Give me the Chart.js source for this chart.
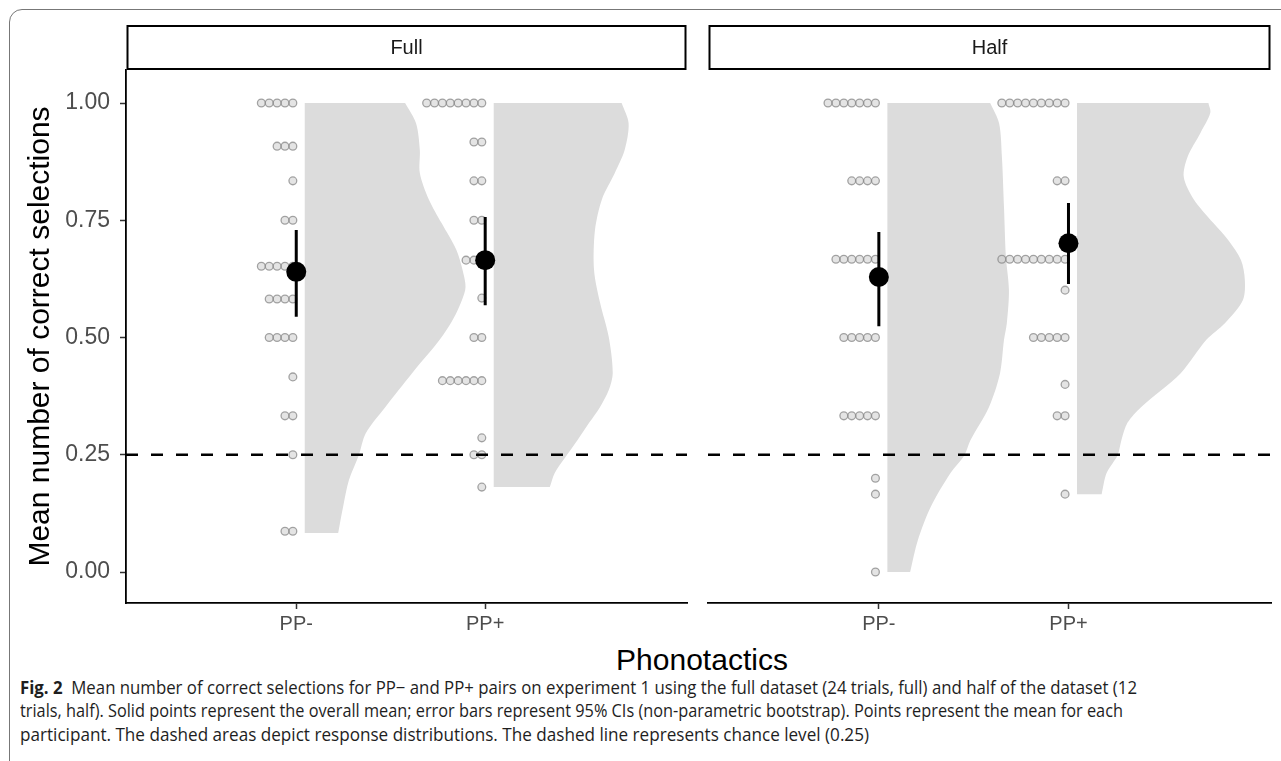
<!DOCTYPE html>
<html>
<head>
<meta charset="utf-8">
<script src="https://cdn.jsdelivr.net/npm/chart.js@4.4.1/dist/chart.umd.min.js"></script>
<style>
  html, body { margin: 0; padding: 0; background: #fff; }
  body { width: 1281px; height: 761px; overflow: hidden; position: relative; font-family: "Liberation Sans", Arial, sans-serif; }
  #frame { position: absolute; left: 9px; top: 9px; width: 1400px; height: 900px; border: 1.5px solid #777; border-top-left-radius: 13px; box-sizing: border-box; }
  canvas { position: absolute; top: 0; }
  #c1 { left: 0; }
  #c2 { left: 697px; }
  #xtitle { position: absolute; left: 402px; width: 600px; top: 643px; text-align: center; font-size: 30px; line-height: 34px; color: #000; }
  .cap { position: absolute; left: 20px; white-space: nowrap; font-family: "Open Sans", "Noto Sans", sans-serif; font-size: 17.5px; line-height: 22px; color: #1e1e1e; transform-origin: 0 50%; }
  .cap b { font-weight: 700; }
</style>
</head>
<body>
<div id="frame"></div>
<canvas id="c1" width="697" height="640"></canvas>
<canvas id="c2" width="584" height="640"></canvas>
<div id="xtitle">Phonotactics</div>
<div class="cap" id="l1" data-w="1117" style="top:676px"><b>Fig. 2</b>&nbsp; Mean number of correct selections for PP− and PP+ pairs on experiment 1 using the full dataset (24 trials, full) and half of the dataset (12</div>
<div class="cap" id="l2" data-w="1103" style="top:699px">trials, half). Solid points represent the overall mean; error bars represent 95% CIs (non-parametric bootstrap). Points represent the mean for each</div>
<div class="cap" id="l3" data-w="849" style="top:723px">participant. The dashed areas depict response distributions. The dashed line represents chance level (0.25)</div>
<script>
// ---------- data ----------
const categories = ['PP-', 'PP+'];
const panels = ['Full', 'Half'];
const yTickValues = [0, 0.25, 0.5, 0.75, 1];
const yTickLabels = ['0.00', '0.25', '0.50', '0.75', '1.00'];
const chanceLevel = 0.25;

// overall means and 95% CIs
const fullMean = [0.640, 0.665];
const fullLow  = [0.544, 0.569];
const fullHigh = [0.729, 0.757];
const halfMean = [0.629, 0.701];
const halfLow  = [0.524, 0.614];
const halfHigh = [0.725, 0.787];

// participant means (dot stacks): value level and number of participants
const fullMinusDotValues = [1.0, 0.908, 0.834, 0.75, 0.652, 0.582, 0.5, 0.416, 0.333, 0.25, 0.087];
const fullMinusDotCounts = [5, 3, 1, 2, 5, 4, 4, 1, 2, 1, 2];
const fullPlusDotValues  = [1.0, 0.917, 0.834, 0.75, 0.665, 0.584, 0.5, 0.408, 0.286, 0.25, 0.181];
const fullPlusDotCounts  = [8, 2, 2, 2, 3, 1, 2, 6, 1, 2, 1];
const halfMinusDotValues = [1.0, 0.834, 0.667, 0.5, 0.333, 0.2, 0.166, 0.0];
const halfMinusDotCounts = [7, 4, 6, 5, 5, 1, 1, 1];
const halfPlusDotValues  = [1.0, 0.834, 0.667, 0.601, 0.5, 0.4, 0.333, 0.166];
const halfPlusDotCounts  = [9, 2, 9, 1, 5, 1, 2, 1];

// half-violin outlines: value levels (top to bottom) and density widths (x units)
const fullMinusViolinY = [1.000, 0.957, 0.900, 0.851, 0.795, 0.744, 0.687, 0.629, 0.601, 0.544, 0.495, 0.424, 0.352, 0.296, 0.249, 0.196, 0.139, 0.083];
const fullMinusViolinW = [0.531, 0.589, 0.609, 0.609, 0.656, 0.724, 0.802, 0.844, 0.849, 0.792, 0.714, 0.568, 0.427, 0.323, 0.286, 0.234, 0.203, 0.177];
const fullPlusViolinY  = [1.000, 0.957, 0.900, 0.851, 0.795, 0.729, 0.644, 0.574, 0.501, 0.424, 0.388, 0.352, 0.318, 0.281, 0.245, 0.211, 0.181];
const fullPlusViolinW  = [0.677, 0.714, 0.693, 0.641, 0.573, 0.536, 0.531, 0.563, 0.609, 0.630, 0.609, 0.563, 0.505, 0.443, 0.380, 0.323, 0.297];
const halfMinusViolinY = [1.000, 0.957, 0.885, 0.778, 0.672, 0.601, 0.531, 0.495, 0.424, 0.352, 0.281, 0.249, 0.211, 0.139, 0.068, 0.000];
const halfMinusViolinW = [0.542, 0.589, 0.604, 0.615, 0.625, 0.641, 0.630, 0.615, 0.594, 0.536, 0.438, 0.406, 0.333, 0.229, 0.161, 0.120];
const halfPlusViolinY  = [1.000, 0.979, 0.936, 0.885, 0.842, 0.795, 0.744, 0.708, 0.665, 0.623, 0.580, 0.531, 0.495, 0.424, 0.352, 0.318, 0.281, 0.249, 0.211, 0.166];
const halfPlusViolinW  = [0.693, 0.703, 0.651, 0.583, 0.563, 0.615, 0.719, 0.797, 0.865, 0.885, 0.875, 0.781, 0.682, 0.547, 0.339, 0.266, 0.234, 0.214, 0.156, 0.130];

// ---------- layout constants ----------
const X_MIN = 0.099, X_MAX = 3.068;
const Y_MIN = -0.0661, Y_MAX = 1.0704;
const VIOLIN_GAP = 0.045;
const DOT_GAP = -0.018;
const DOT_STEP = 0.0417;
const FONT = "'Liberation Sans', Arial, sans-serif";

Chart.defaults.font.family = FONT;

function violinData(cat, ys, ws) {
  const base = cat + VIOLIN_GAP;
  const last = ys.length - 1;
  // corner points are doubled so the smoothed outline keeps sharp corners
  const pts = [{x: base, y: ys[last]}, {x: base, y: ys[last]}, {x: base, y: ys[0]}, {x: base, y: ys[0]}];
  ys.forEach((y, i) => {
    const p = {x: base + ws[i], y: y};
    pts.push(p);
    if (i === 0 || i === last) pts.push({x: p.x, y: p.y});
  });
  return pts;
}
function dotData(cat, vals, counts) {
  const pts = [];
  vals.forEach((v, i) => {
    for (let k = 0; k < counts[i]; k++) pts.push({x: cat + DOT_GAP - k * DOT_STEP, y: v});
  });
  return pts;
}
function errData(lows, highs) {
  const pts = [];
  lows.forEach((lo, i) => {
    pts.push({x: i + 1, y: lo}, {x: i + 1, y: highs[i]}, {x: i + 1, y: null});
  });
  return pts;
}
function meanData(means) { return means.map((m, i) => ({x: i + 1, y: m})); }

function datasets(v1, v2, d1, d2, lows, highs, means) {
  const violinStyle = {showLine: true, fill: 'shape', backgroundColor: '#dcdcdc', borderWidth: 0, borderColor: 'rgba(0,0,0,0)', pointRadius: 0, tension: 0.3, order: 5};
  const dotStyle = {showLine: false, pointRadius: 3.9, pointBorderWidth: 1.3, pointBackgroundColor: 'rgba(205,205,205,0.55)', pointBorderColor: 'rgba(135,135,135,0.75)', order: 4};
  return [
    Object.assign({data: v1}, violinStyle),
    Object.assign({data: v2}, violinStyle),
    Object.assign({data: d1}, dotStyle),
    Object.assign({data: d2}, dotStyle),
    {data: [{x: X_MIN, y: chanceLevel}, {x: X_MAX, y: chanceLevel}], showLine: true, borderColor: '#000', borderWidth: 2.6, borderDash: [12, 13], pointRadius: 0, order: 3},
    {data: errData(lows, highs), showLine: true, spanGaps: false, borderColor: '#000', borderWidth: 3, pointRadius: 0, order: 2},
    {data: meanData(means), showLine: false, pointRadius: 10, pointBackgroundColor: '#000', pointBorderColor: '#000', pointBorderWidth: 0, order: 1}
  ];
}

const stripPlugin = {
  id: 'strip',
  afterDraw(chart, args, opts) {
    const {ctx, chartArea} = chart;
    ctx.save();
    ctx.strokeStyle = '#000';
    ctx.lineWidth = 2;
    ctx.strokeRect(chartArea.left + 1.5, 26, chartArea.right - chartArea.left - 3, 43);
    ctx.fillStyle = '#1a1a1a';
    ctx.font = '20px ' + FONT;
    ctx.textAlign = 'center';
    ctx.textBaseline = 'middle';
    ctx.fillText(opts.label, (chartArea.left + chartArea.right) / 2, 48);
    ctx.restore();
  }
};

function xScale() {
  return {
    type: 'linear', min: X_MIN, max: X_MAX,
    afterBuildTicks: s => { s.ticks = categories.map((c, i) => ({value: i + 1})); },
    afterFit: s => { s.height = 37; },
    ticks: {autoSkip: false, callback: v => categories[v - 1], color: '#4d4d4d', font: {size: 20}, padding: 3, maxRotation: 0},
    grid: {display: true, drawOnChartArea: false, drawTicks: true, tickLength: 6, tickColor: '#333', tickWidth: 1.5},
    border: {display: true, color: '#000', width: 1.8}
  };
}

function makeChart(id, label, ds, showY, padding) {
  return new Chart(document.getElementById(id), {
    type: 'scatter',
    data: {datasets: ds},
    options: {
      responsive: false, animation: false, events: [],
      layout: {padding: padding},
      plugins: {legend: {display: false}, tooltip: {enabled: false}, strip: {label: label}},
      scales: {
        x: xScale(),
        y: {
          type: 'linear', min: Y_MIN, max: Y_MAX, display: showY,
          afterBuildTicks: s => { s.ticks = yTickValues.map(v => ({value: v})); },
          afterFit: s => { if (showY) s.width = 126; },
          ticks: {autoSkip: false, callback: (v) => yTickLabels[yTickValues.indexOf(v)], color: '#4d4d4d', font: {size: 23}, padding: 10},
          grid: {display: true, drawOnChartArea: false, drawTicks: true, tickLength: 6, tickColor: '#333', tickWidth: 1.5},
          border: {display: true, color: '#000', width: 1.8},
          title: {display: true, text: 'Mean number of correct selections', color: '#000', font: {size: 30}, padding: {top: 23, bottom: 0}}
        }
      }
    },
    plugins: [stripPlugin]
  });
}

makeChart('c1', panels[0],
  datasets(violinData(1, fullMinusViolinY, fullMinusViolinW), violinData(2, fullPlusViolinY, fullPlusViolinW),
           dotData(1, fullMinusDotValues, fullMinusDotCounts), dotData(2, fullPlusDotValues, fullPlusDotCounts),
           fullLow, fullHigh, fullMean),
  true, {top: 70, right: 1, left: 0, bottom: 0});

makeChart('c2', panels[1],
  datasets(violinData(1, halfMinusViolinY, halfMinusViolinW), violinData(2, halfPlusViolinY, halfPlusViolinW),
           dotData(1, halfMinusDotValues, halfMinusDotCounts), dotData(2, halfPlusDotValues, halfPlusDotCounts),
           halfLow, halfHigh, halfMean),
  false, {top: 70, right: 3, left: 11, bottom: 0});

// fit caption lines to the reference line widths
document.querySelectorAll('.cap').forEach(el => {
  const w = el.getBoundingClientRect().width;
  const target = parseFloat(el.dataset.w);
  el.style.transform = 'scaleX(' + (target / w) + ')';
});
</script>
</body>
</html>
